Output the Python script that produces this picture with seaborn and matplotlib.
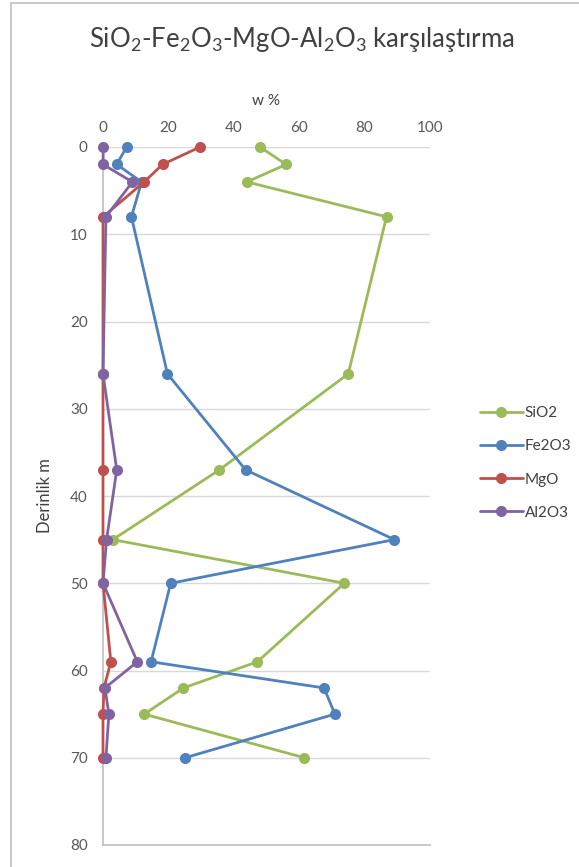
import matplotlib
matplotlib.use("Agg")
import matplotlib.pyplot as plt
import seaborn as sns
import pandas as pd
from matplotlib.patches import Rectangle

depth = [0, 2, 4, 8, 26, 37, 45, 50, 59, 62, 65, 70]
sio2 = [48, 56, 44, 86.7, 75, 35.6, 3, 73.8, 47.2, 24.6, 12.6, 61.6]
fe2o3 = [7.2, 4.2, 11.8, 8.7, 19.7, 43.6, 89.1, 20.7, 14.7, 67.6, 70.9, 25.1]
mgo = [29.7, 18.2, 12.6, 0, 0, 0, 0, 0, 2.4, 0.3, 0, 0]
al2o3 = [0.1, 0, 9, 0.9, 0, 4.2, 1.1, 0, 10.5, 0.6, 1.8, 0.9]
series_names = ["SiO2", "Fe2O3", "MgO", "Al2O3"]
legend_labels = ["SiO2", "Fe2O3", "MgO", "Al2O3"]
x_ticks = [0, 20, 40, 60, 80, 100]
y_ticks = [0, 10, 20, 30, 40, 50, 60, 70, 80]
title = "SiO$_2$-Fe$_2$O$_3$-MgO-Al$_2$O$_3$ karşılaştırma"

sns.set_style("white")
plt.rcParams["font.family"] = ["Lato", "DejaVu Sans"]
plt.rcParams["mathtext.fontset"] = "custom"
plt.rcParams["mathtext.rm"] = "Lato"
plt.rcParams["mathtext.it"] = "Lato"
plt.rcParams["mathtext.default"] = "regular"

frames = []
for name, vals in zip(series_names, [sio2, fe2o3, mgo, al2o3]):
    frames.append(pd.DataFrame({"depth": depth, "value": vals, "oxide": name}))
df = pd.concat(frames, ignore_index=True)

palette = {"SiO2": "#9BBB59", "Fe2O3": "#4F81BD", "MgO": "#C0504D", "Al2O3": "#8064A2"}

fig = plt.figure(figsize=(5.79, 8.67), dpi=100)
fig.patches.append(Rectangle((11 / 579, -0.1), 1.2, (867 - 3) / 867 + 0.1,
                             transform=fig.transFigure, fill=False,
                             edgecolor="#BFBFBF", linewidth=1.2))
ax = fig.add_axes([103 / 579, 1 - 845 / 867, 327 / 579, 698 / 867])

sns.lineplot(data=df, x="value", y="depth", hue="oxide", hue_order=series_names,
             palette=palette, sort=False, estimator=None, marker="o",
             markersize=8, markeredgewidth=0, linewidth=2.0, ax=ax, legend=True,
             clip_on=False, zorder=3)

ax.set_xlim(0, 100)
ax.set_ylim(80, 0)
ax.set_xticks(x_ticks)
ax.set_yticks(y_ticks)
ax.xaxis.tick_top()
ax.xaxis.set_label_position("top")
ax.set_xlabel("w %", fontsize=11, color="#404040", labelpad=11)
ax.set_ylabel("Derinlik m", fontsize=12, color="#404040", labelpad=12)
ax.tick_params(axis="both", length=0, labelsize=11, labelcolor="#595959")
ax.tick_params(axis="x", pad=9)
ax.tick_params(axis="y", pad=11)
for yv in y_ticks[:-1]:
    ax.axhline(yv, color="#D9D9D9", linewidth=1, zorder=0)
for s in ["top", "right"]:
    ax.spines[s].set_visible(False)
for s in ["left", "bottom"]:
    ax.spines[s].set_color("#BFBFBF")
    ax.spines[s].set_linewidth(1.2)

handles, labels = ax.get_legend_handles_labels()
ax.get_legend().remove()
leg = fig.legend(handles, legend_labels, loc="center left",
                 bbox_to_anchor=(466 / 579, 1 - 463 / 867), frameon=False,
                 fontsize=11, labelspacing=1.25, handlelength=2.8,
                 handletextpad=0.15, labelcolor="#404040")

fig.text(302 / 579, 1 - 40 / 867, title, ha="center", va="center",
         fontsize=18.5, color="#404040")

fig.savefig("out.png", dpi=100)
